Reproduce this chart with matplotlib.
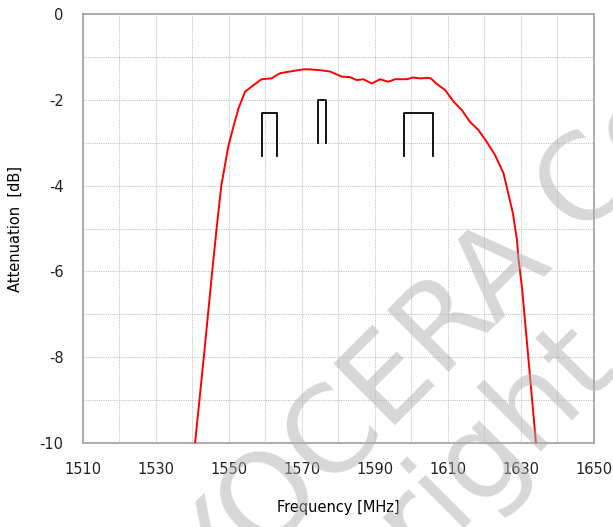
import matplotlib
matplotlib.use("Agg")
import matplotlib.pyplot as plt

plt.rcParams["axes.unicode_minus"] = False

# filter response
freq = [1540.7, 1543.1, 1545.4, 1546.6, 1547.9, 1549.8, 1551.2, 1552.6, 1554.4,
        1556.7, 1558.9, 1561.7, 1562.6, 1564.0, 1566.7, 1570.4, 1572.2, 1575.0,
        1577.7, 1580.9, 1583.1, 1585.0, 1586.8, 1589.1, 1591.4, 1593.6, 1595.5,
        1598.7, 1600.5, 1602.3, 1604.6, 1605.3, 1606.9, 1609.2, 1611.5, 1613.8,
        1616.0, 1618.3, 1620.6, 1622.9, 1625.2, 1626.5, 1627.8, 1628.9, 1629.3,
        1630.3, 1632.0, 1634.1]
atten = [-10.0, -8.0, -6.0, -5.0, -4.0, -3.09, -2.63, -2.20, -1.81,
         -1.66, -1.52, -1.50, -1.45, -1.38, -1.34, -1.29, -1.29, -1.31,
         -1.34, -1.46, -1.47, -1.54, -1.52, -1.62, -1.52, -1.58, -1.52,
         -1.52, -1.48, -1.50, -1.49, -1.50, -1.63, -1.77, -2.04, -2.24,
         -2.51, -2.70, -2.98, -3.29, -3.71, -4.18, -4.65, -5.27, -5.70,
         -6.40, -8.00, -10.0]

# GNSS band markers: (low, high, top, bottom)
band_lo = [1559.05, 1574.4, 1598.0]
band_hi = [1563.15, 1576.5, 1606.0]
band_top = [-2.3, -2.0, -2.3]
band_bot = [-3.3, -3.0, -3.3]

xticks = [1510, 1530, 1550, 1570, 1590, 1610, 1630, 1650]
yticks = [0, -2, -4, -6, -8, -10]

fig = plt.figure(figsize=(6.13, 5.27), dpi=100)
ax = fig.add_axes([0.1354, 0.1594, 0.8336, 0.814])

ax.plot(freq, atten, color="#ff0000", lw=1.4, zorder=4)
for lo, hi, top, bot in zip(band_lo, band_hi, band_top, band_bot):
    ax.plot([lo, lo, hi, hi], [bot, top, top, bot], color="black", lw=1.3, zorder=4)

ax.set_xlim(1510, 1650)
ax.set_ylim(-10, 0)
ax.set_xticks(xticks)
ax.set_yticks(yticks)
ax.set_xticks(range(1510, 1651, 10), minor=True)
ax.set_yticks(range(-10, 1), minor=True)
ax.grid(which="both", color="#c4c4c4", lw=0.8, ls=(0, (1, 1)), zorder=1)
ax.tick_params(which="both", length=0, labelsize=10.5, colors="#222222")
ax.tick_params(axis="x", pad=14)
ax.tick_params(axis="y", pad=14)
for s in ax.spines.values():
    s.set_color("#a6a6a6")
    s.set_linewidth(1.3)

ax.set_xlabel("Frequency [MHz]", fontsize=10.5, labelpad=16)
ax.set_ylabel("Attenuation  [dB]", fontsize=10.5, labelpad=12)

# watermark
wm = dict(fontsize=86, color="#b0b0b0", alpha=0.5, rotation=45,
          rotation_mode="anchor", ha="left", va="baseline", zorder=3)
fig.text(0.264, -0.25, "KYOCERA Corporation", **wm)
fig.text(0.336, -0.48, "Copyright", **wm)

fig.savefig("out.png", dpi=100)
